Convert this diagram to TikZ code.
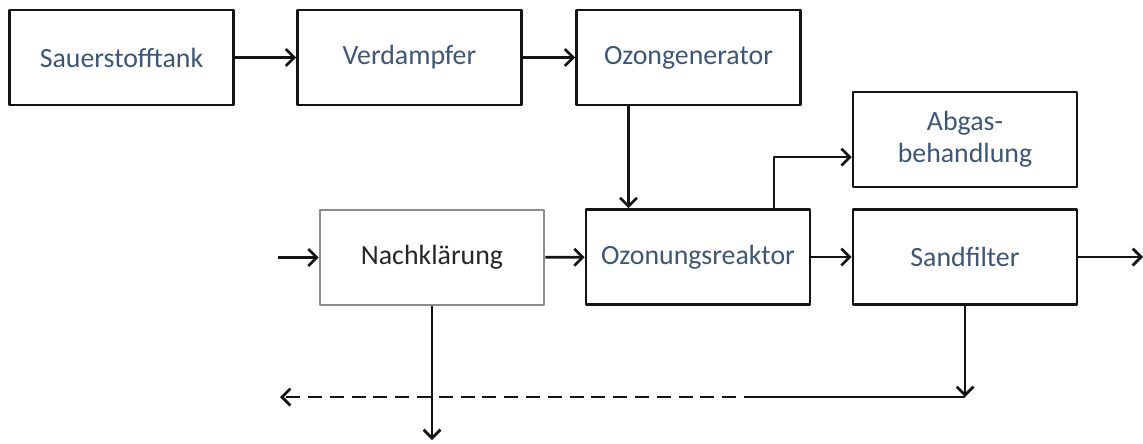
\documentclass[tikz,border=0pt]{standalone}
\usepackage{fontspec}
\setmainfont{Carlito}
\usetikzlibrary{arrows.meta}
\definecolor{ink}{HTML}{141414}
\definecolor{label}{HTML}{3B5679}
\definecolor{grey}{HTML}{8C8C8C}
\definecolor{dark}{HTML}{262626}

\begin{document}
\begin{tikzpicture}[
  x=0.025cm, y=-0.025cm,
  line join=round,
  % Blöcke der Anlage
  block/.style={draw=ink, line width=1.8pt, minimum width=5.6cm, minimum height=2.375cm,
                inner sep=0pt, align=center, text=label, font=\fontsize{19.8}{23}\selectfont},
  plain/.style={block, draw=grey, text=dark},
  pipe/.style={draw=ink, line width=1.9pt},
  flow/.style={pipe, -{Straight Barb[length=6pt,width=12pt,line width=1.9pt]}},
  back/.style={flow, dash pattern=on 10pt off 5.5pt},
]
\useasboundingbox (0,0) rectangle (1143,443);

% --- obere Reihe: Sauerstoffversorgung
\node[block] (tank) at (121.5,57.5) {Sauerstofftank};
\node[block] (verd) at (409.5,57.5) {Verdampfer};
\node[block] (ozgen) at (688.5,57.5) {Ozongenerator};

% --- Abgas und Wasserlinie
\node[block] (abgas) at (965,139.5) {Abgas-\\behandlung};
\node[plain] (nach) at (432,257.5) {Nachklärung};
\node[block] (reakt) at (698,257) {Ozonungsreaktor};
\node[block] (sand) at (965,257) {Sandfilter};

% --- freie Enden
\coordinate (zulauf) at (278,257.5);
\coordinate (ablauf) at (1143,257);
\coordinate (gas) at ([xshift=-1.5cm]ozgen.south);
\coordinate (vent) at ([xshift=1.9cm]reakt.north);
\coordinate (spuel) at (965,397);
\coordinate (wechsel) at (758,397);
\coordinate (rueck) at (280,397);
\coordinate (schlamm) at (432,440);

% --- Verbindungen
\draw[flow] (tank) -- (verd);
\draw[flow] (verd) -- (ozgen);
\draw[flow] (gas) -- (gas |- reakt.north);
\draw[flow] (vent) |- ([yshift=-0.44cm]abgas.west);
\draw[flow] (zulauf) -- (nach);
\draw[flow] (nach) -- (reakt);
\draw[flow] (reakt) -- (sand);
\draw[flow] (sand) -- (ablauf);
\draw[flow] (sand.south) -- (spuel);
\draw[pipe] (spuel) -- (wechsel);
\draw[back] (wechsel) -- (rueck);
\draw[flow] (nach.south) -- (schlamm);
\end{tikzpicture}
\end{document}
